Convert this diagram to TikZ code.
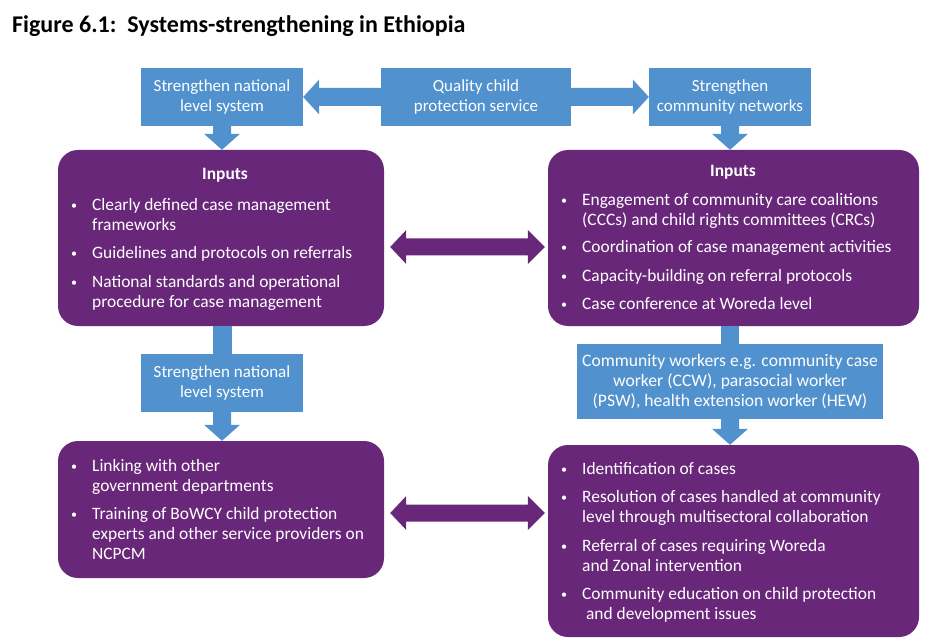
\documentclass[tikz,border=0pt]{standalone}
\usepackage{fontspec}
\setmainfont{Carlito}
\usetikzlibrary{calc}
\definecolor{bl}{HTML}{5091CE}
\definecolor{pu}{HTML}{69277A}
\newcommand{\bu}{\strut\makebox[22pt][l]{\hspace{1pt}\raisebox{1pt}{\fontsize{12}{12}\selectfont\textbullet}}}
\newcommand{\ind}{\hspace*{22pt}}
\begin{document}
\begin{tikzpicture}[x=1pt,y=-1pt,
  bbox/.style={fill=bl, text=white, align=center, inner sep=0pt, font=\fontsize{17}{20}\selectfont},
  pbox/.style={fill=pu, rounded corners=20pt, inner sep=0pt},
  ptext/.style={text=white, align=left, inner sep=0pt, anchor=north west, font=\fontsize{17.4}{20}\selectfont},
  phead/.style={text=white, inner sep=0pt, anchor=base, font=\fontsize{17.4}{20}\selectfont\bfseries},
]
\useasboundingbox (0,0) rectangle (945,644);

\node[anchor=base west, inner sep=0pt, font=\fontsize{24}{28}\selectfont\bfseries] (title) at (12,33) {Figure 6.1:\ \ Systems-strengthening in Ethiopia};

% blue boxes
\node[bbox, minimum width=162pt, minimum height=58pt] (s1) at (222,97) {Strengthen national\\level system};
\node[bbox, minimum width=190pt, minimum height=58pt] (q) at (476,97) {Quality child\\protection service};
\node[bbox, minimum width=162pt, minimum height=58pt] (s3) at (730,97) {Strengthen\\community networks};
\node[bbox, minimum width=162pt, minimum height=58pt] (s2) at (222,383) {Strengthen national\\level system};
\node[bbox, minimum width=306pt, minimum height=75pt, font=\fontsize{17.6}{20}\selectfont] (cw) at (730,381.5) {Community workers e.g. community case\\worker (CCW), parasocial worker\\(PSW), health extension worker (HEW)};

% purple boxes
\node[pbox, minimum width=326pt, minimum height=176pt] (p1) at (221,238) {};
\node[pbox, minimum width=371pt, minimum height=176pt] (p2) at (733.5,238) {};
\node[pbox, minimum width=326pt, minimum height=137pt] (p3) at (221,509.5) {};
\node[pbox, minimum width=371pt, minimum height=192pt] (p4) at (733.5,541) {};

% baseline of first line = y + 14
\node[phead] (p1h) at (225,180) {Inputs};
\node[ptext] (p1l) at (70,196) {\bu Clearly defined case management\\
\ind frameworks\\[8.5pt]
\bu Guidelines and protocols on referrals\\[8.5pt]
\bu National standards and operational\\
\ind procedure for case management};

\node[phead] (p2h) at (733,177) {Inputs};
\node[ptext] (p2l) at (560,191) {\bu Engagement of community care coalitions\\
\ind (CCCs) and child rights committees (CRCs)\\[7.5pt]
\bu Coordination of case management activities\\[8.5pt]
\bu Capacity-building on referral protocols\\[8.5pt]
\bu Case conference at Woreda level};

\node[ptext] (p3l) at (70,457) {\bu Linking with other\\
\ind government departments\\[8.5pt]
\bu Training of BoWCY child protection\\
\ind experts and other service providers on\\
\ind NCPCM};

\node[ptext] (p4l) at (560,460) {\bu Identification of cases\\[8.5pt]
\bu Resolution of cases handled at community\\
\ind level through multisectoral collaboration\\[8.5pt]
\bu Referral of cases requiring Woreda\\
\ind and Zonal intervention\\[8.5pt]
\bu Community education on child protection\\
\ind\ and development issues};

% blue horizontal arrows
\fill[bl] let \p1=(q.west), \p2=(s1.east) in
  (\x1,\y1+9pt) -- (\x2+16pt,\y1+9pt) -- (\x2+16pt,\y1+17.5pt) -- (\x2,\y1)
  -- (\x2+16pt,\y1-17.5pt) -- (\x2+16pt,\y1-9pt) -- (\x1,\y1-9pt) -- cycle;
\fill[bl] let \p1=(q.east), \p2=(s3.west) in
  (\x1,\y1+9pt) -- (\x2-16pt,\y1+9pt) -- (\x2-16pt,\y1+17.5pt) -- (\x2,\y1)
  -- (\x2-16pt,\y1-17.5pt) -- (\x2-16pt,\y1-9pt) -- (\x1,\y1-9pt) -- cycle;

% blue down arrows
\fill[bl] let \p1=(s1.south), \p2=(p1.north) in
  (\x1-9pt,\y1) -- (\x1+9pt,\y1) -- (\x1+9pt,\y2+16pt) -- (\x1+18pt,\y2+16pt) -- (\x1,\y2)
  -- (\x1-18pt,\y2+16pt) -- (\x1-9pt,\y2+16pt) -- cycle;
\fill[bl] let \p1=(s3.south), \p2=(p2.north) in
  (\x1-9pt,\y1) -- (\x1+9pt,\y1) -- (\x1+9pt,\y2+16pt) -- (\x1+18pt,\y2+16pt) -- (\x1,\y2)
  -- (\x1-18pt,\y2+16pt) -- (\x1-9pt,\y2+16pt) -- cycle;
\fill[bl] let \p1=(s2.south), \p2=(p3.north) in
  (\x1-9pt,\y1) -- (\x1+9pt,\y1) -- (\x1+9pt,\y2+16pt) -- (\x1+18pt,\y2+16pt) -- (\x1,\y2)
  -- (\x1-18pt,\y2+16pt) -- (\x1-9pt,\y2+16pt) -- cycle;
\fill[bl] let \p1=(cw.south), \p2=(p4.north) in
  (\x1-9pt,\y1) -- (\x1+9pt,\y1) -- (\x1+9pt,\y2+16pt) -- (\x1+18pt,\y2+16pt) -- (\x1,\y2)
  -- (\x1-18pt,\y2+16pt) -- (\x1-9pt,\y2+16pt) -- cycle;

% blue shafts
\fill[bl] let \p1=(p1.south), \p2=(s2.north) in (\x2-9.5pt,\y1) rectangle (\x2+9.5pt,\y2);
\fill[bl] let \p1=(p2.south), \p2=(cw.north) in (\x2-9pt,\y1) rectangle (\x2+9pt,\y2);

% purple double arrows
\coordinate (d1l) at ($(p1.east)+(6,9)$);
\coordinate (d1r) at ($(d1l -| p2.west)+(-3,0)$);
\coordinate (d2l) at ($(p3.east)+(6,3.5)$);
\coordinate (d2r) at ($(d2l -| p4.west)+(-3,0)$);
\fill[pu] let \p1=(d1l), \p2=(d1r) in
  (\x1,\y1) -- (\x1+16pt,\y1+17pt) -- (\x1+16pt,\y1+8.5pt) -- (\x2-17pt,\y1+8.5pt) -- (\x2-17pt,\y1+17pt)
  -- (\x2,\y1) -- (\x2-17pt,\y1-17pt) -- (\x2-17pt,\y1-8.5pt) -- (\x1+16pt,\y1-8.5pt) -- (\x1+16pt,\y1-17pt) -- cycle;
\fill[pu] let \p1=(d2l), \p2=(d2r) in
  (\x1,\y1) -- (\x1+16pt,\y1+17pt) -- (\x1+16pt,\y1+8.5pt) -- (\x2-17pt,\y1+8.5pt) -- (\x2-17pt,\y1+17pt)
  -- (\x2,\y1) -- (\x2-17pt,\y1-17pt) -- (\x2-17pt,\y1-8.5pt) -- (\x1+16pt,\y1-8.5pt) -- (\x1+16pt,\y1-17pt) -- cycle;
\end{tikzpicture}
\end{document}
